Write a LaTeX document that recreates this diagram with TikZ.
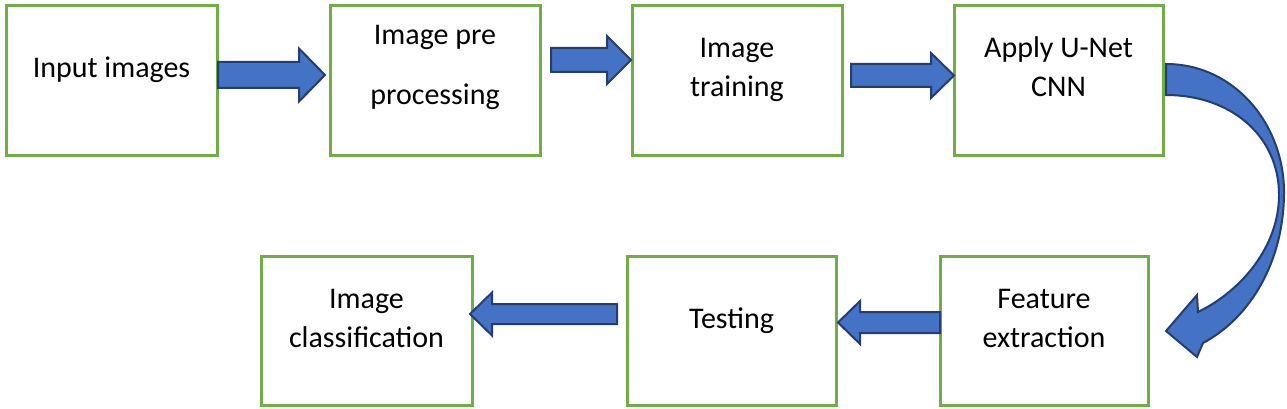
\documentclass[tikz,border=0pt]{standalone}
\usepackage{fontspec}
\setmainfont{Carlito}
\definecolor{boxgreen}{RGB}{112,173,71}
\definecolor{arrowblue}{RGB}{68,114,196}
\definecolor{arrowedge}{RGB}{36,62,112}
\newcommand{\blockarrow}[6]{% tail x, tip x, centre y, shaft half, head half, head back x
  \draw[blk] (#1,#3-#4) -- (#6,#3-#4) -- (#6,#3-#5) -- (#2,#3) -- (#6,#3+#5) -- (#6,#3+#4) -- (#1,#3+#4) -- cycle;}
\begin{document}
\begin{tikzpicture}[x=1pt,y=-1pt,
  box/.style={draw=boxgreen, line width=3pt, minimum width=210pt, minimum height=149pt, inner sep=0pt},
  lbl/.style={font=\fontsize{30}{39}\selectfont, align=center, anchor=base, inner sep=0pt, text=black},
  blk/.style={fill=arrowblue, draw=arrowedge, line width=2pt, line join=miter}]
\useasboundingbox[fill=white] (0,0) rectangle (1287,409);
% boxes
\node[box, minimum width=211pt] (b1) at (111.5,80.5) {};
\node[box] (b2) at (435,80.5) {};
\node[box] (b3) at (737,80.5) {};
\node[box, minimum width=209pt] (b4) at (1058.5,80.5) {};
\node[box, minimum width=208pt] (b5) at (1044,330.5) {};
\node[box, minimum width=209pt] (b6) at (731.5,330.5) {};
\node[box, minimum width=211pt] (b7) at (366.5,330.5) {};
% labels (base = baseline of the last line)
\node[lbl] (t1) at (111.5,78) {Input images};
\node[lbl, font=\fontsize{30}{60}\selectfont] (t2) at (435,105) {Image pre\\processing};
\node[lbl] (t3) at (737,97) {Image\\training};
\node[lbl] (t4) at (1058.5,97) {Apply U-Net\\CNN};
\node[lbl] (t5) at (1044,347) {Feature\\extraction};
\node[lbl] (t6) at (731.5,328) {Testing};
\node[lbl] (t7) at (366.5,347) {Image\\classification};
% straight block arrows
\blockarrow{218}{325}{75}{13}{26.5}{299}
\blockarrow{551}{631}{60}{12}{24}{607}
\blockarrow{851}{954}{75.5}{11.5}{22.5}{931}
\blockarrow{940}{838}{322.5}{10.5}{21.5}{860}
\blockarrow{617}{470}{314}{10}{21.5}{492}
% curved arrow from b4 to b5
\draw[blk] (1166,64) .. controls (1235,64) and (1284,125) .. (1284,192)
  .. controls (1284,262) and (1250,318) .. (1203,343) -- (1197,357) -- (1166,331) -- (1197,295) -- (1198,312)
  .. controls (1243,290) and (1279,245) .. (1279,195)
  .. controls (1279,135) and (1230,95) .. (1166,95) -- cycle;
\end{tikzpicture}
\end{document}
